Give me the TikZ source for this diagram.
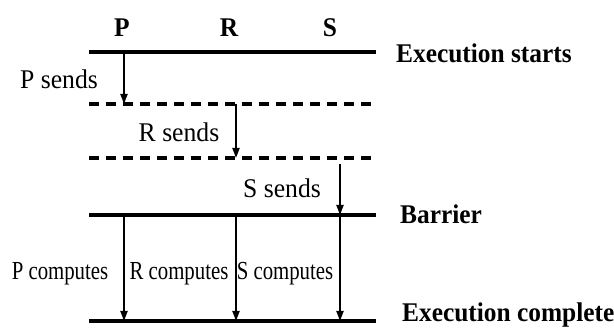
\documentclass[tikz,border=0pt]{standalone}
\usepackage{fontspec}
\setmainfont{Liberation Serif}
\usetikzlibrary{arrows.meta}
\begin{document}
\begin{tikzpicture}[x=1pt,y=-1pt,
  phase/.style={line width=3.4pt},
  dphase/.style={line width=3.4pt,dash pattern=on 10pt off 7pt},
  msg/.style={line width=1.9pt,-{Triangle[length=10pt,width=7pt]}},
  proc/.style={font=\fontsize{27}{27}\selectfont\bfseries,inner sep=0pt,anchor=base,xscale=0.94},
  side/.style={font=\fontsize{27}{27}\selectfont\bfseries,inner sep=0pt,anchor=base west,xscale=0.94},
  small/.style={font=\fontsize{27}{27}\selectfont,inner sep=0pt,anchor=base,xscale=0.95},
  tiny/.style={font=\fontsize{26}{26}\selectfont,inner sep=0pt,anchor=base,xscale=0.8}]
\useasboundingbox (0,0) rectangle (614,336);
% line endpoints
\coordinate (L0) at (89,52);  \coordinate (R0) at (376,52);
\coordinate (L1) at (89,104); \coordinate (R1) at (376,104);
\coordinate (L2) at (89,158); \coordinate (R2) at (376,158);
\coordinate (L3) at (89,215); \coordinate (R3) at (376,215);
\coordinate (L4) at (89,321); \coordinate (R4) at (376,321);
% arrow endpoints
\coordinate (p0) at (124,52);  \coordinate (p1) at (124,104);
\coordinate (r1) at (236,104); \coordinate (r2) at (236,158);
\coordinate (s2) at (340,164); \coordinate (s3) at (340,215);
\coordinate (pb) at (124,215); \coordinate (pe) at (124,321);
\coordinate (rb) at (236,215); \coordinate (re) at (236,321);
\coordinate (sb) at (340,215); \coordinate (se) at (340,321);
% process labels
\node[proc] (P) at (122,37) {P};
\node[proc] (R) at (229,37) {R};
\node[proc] (S) at (330,37) {S};
% phase lines
\draw[phase] (L0) -- (R0);
\draw[dphase] (L1) -- (R1);
\draw[dphase] (L2) -- (R2);
\draw[phase] (L3) -- (R3);
\draw[phase] (L4) -- (R4);
% side labels
\node[side] (es) at (396,63) {Execution starts};
\node[side] (ba) at (400,224) {Barrier};
\node[side] (ec) at (402,322) {Execution complete};
% sends
\draw[msg] (p0) -- (p1);
\draw[msg] (r1) -- (r2);
\draw[msg] (s2) -- (s3);
\node[small] (ps) at (59,89) {P sends};
\node[small] (rs) at (179,142) {R sends};
\node[small] (ss) at (282,198) {S sends};
% computes
\draw[msg] (pb) -- (pe);
\draw[msg] (rb) -- (re);
\draw[msg] (sb) -- (se);
\node[tiny] (pc) at (60,280) {P computes};
\node[tiny] (rc) at (179,280) {R computes};
\node[tiny] (sc) at (285,280) {S computes};
\end{tikzpicture}
\end{document}
